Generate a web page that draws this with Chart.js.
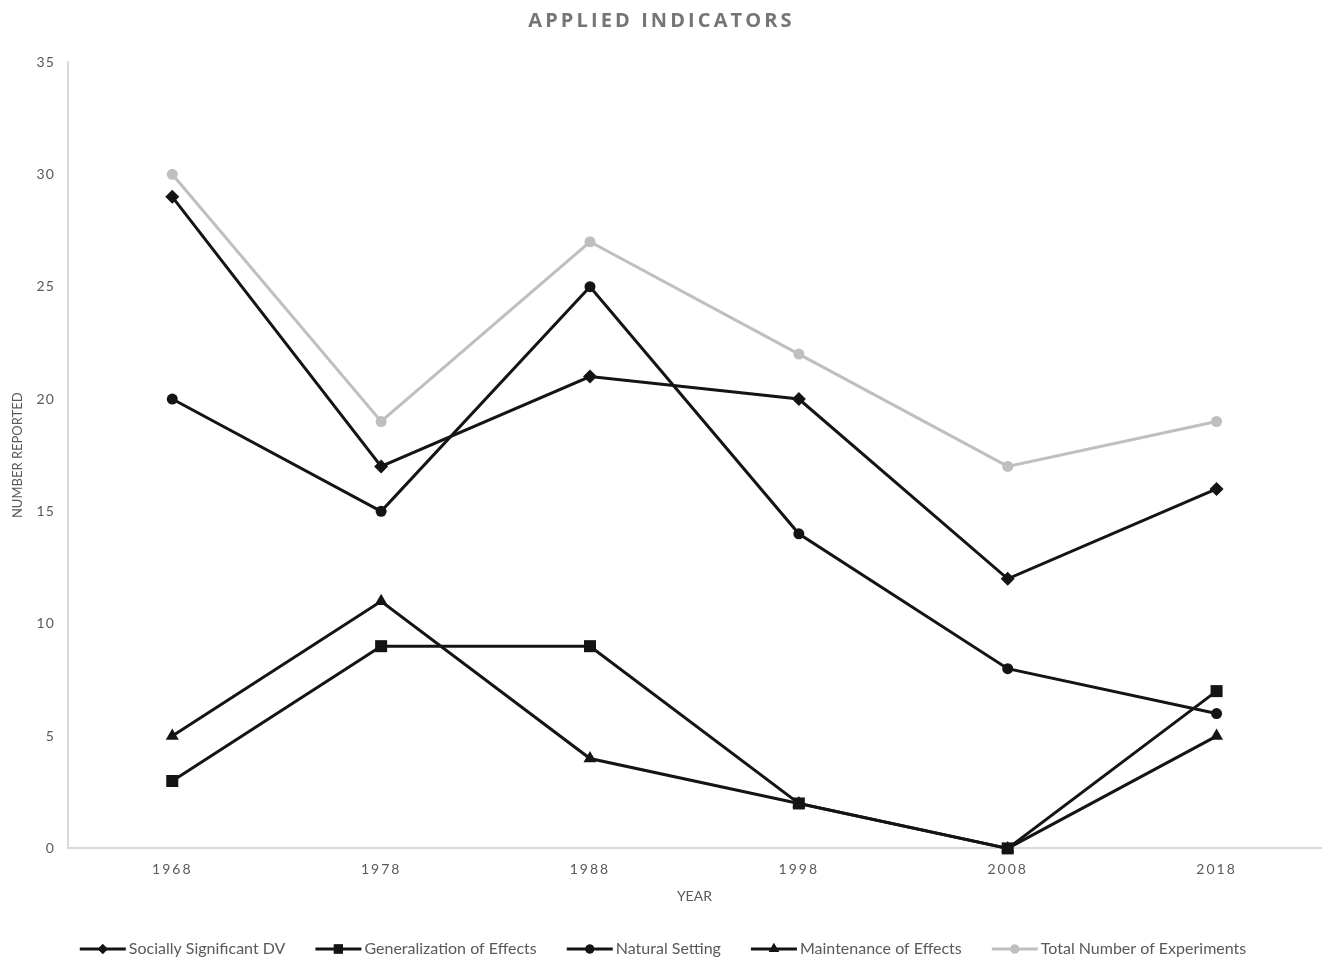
<!DOCTYPE html>
<html>
<head>
<meta charset="utf-8">
<script src="https://cdn.jsdelivr.net/npm/chart.js@4/dist/chart.umd.min.js"></script>
<style>
  html, body { margin: 0; padding: 0; background: #fff; }
  #wrap { position: relative; width: 1323px; height: 958px; }
  #title {
    position: absolute; top: 6px; left: 0; width: 1323px; text-align: center;
    font: bold 20px "Open Sans", sans-serif; letter-spacing: 3.1px; color: #757575;
  }
</style>
</head>
<body>
<div id="wrap">
  <div id="title">APPLIED INDICATORS</div>
  <canvas id="chart" width="1323" height="958"></canvas>
</div>
<script>
const years = ["1968", "1978", "1988", "1998", "2008", "2018"];
const sociallySignificant = [29, 17, 21, 20, 12, 16];
const generalization = [3, 9, 9, 2, 0, 7];
const naturalSetting = [20, 15, 25, 14, 8, 6];
const maintenance = [5, 11, 4, 2, 0, 5];
const totalExperiments = [30, 19, 27, 22, 17, 19];

const FONT = "Lato, 'Liberation Sans', sans-serif";
const TEXT = "#595959";

const series = [
    { label: "Socially Significant DV", data: sociallySignificant, color: "#141414", style: "rectRot", r: 7, lr: 5 },
    { label: "Generalization of Effects", data: generalization, color: "#141414", style: "rect", r: 8.5, lr: 6.5 },
    { label: "Natural Setting", data: naturalSetting, color: "#141414", style: "circle", r: 5.5, lr: 4.5 },
    { label: "Maintenance of Effects", data: maintenance, color: "#141414", style: "triangle", r: 7.5, lr: 6 },
    { label: "Total Number of Experiments", data: totalExperiments, color: "#bfbfbf", style: "circle", r: 5.5, lr: 4.5 },
];

// letter-spaced tick labels, like the original
const spacedTicks = {
    id: "spacedTicks",
    beforeDraw(chart) {
        [["x", "2px"], ["y", "1px"]].forEach(([id, sp]) => {
            const sc = chart.scales[id];
            if (sc && !sc._spaced) {
                const orig = sc.drawLabels;
                sc.drawLabels = function (area) {
                    this.ctx.save();
                    this.ctx.letterSpacing = sp;
                    orig.call(this, area);
                    this.ctx.restore();
                };
                sc._spaced = true;
            }
        });
    }
};

// bottom legend: a short line with the marker, then the label
const lineLegend = {
    id: "lineLegend",
    afterDraw(chart) {
        const c = chart.ctx;
        const lineW = 46, gapText = 3, gapItem = 30, y = 949;
        c.save();
        c.font = "16px " + FONT;
        const widths = series.map(s => c.measureText(s.label).width);
        const total = widths.reduce((a, w) => a + lineW + gapText + w, 0) + gapItem * (series.length - 1);
        let x = 663 - total / 2;
        series.forEach((s, i) => {
            c.strokeStyle = s.color;
            c.fillStyle = s.color;
            c.lineWidth = 3;
            c.beginPath(); c.moveTo(x, y); c.lineTo(x + lineW, y); c.stroke();
            Chart.helpers.drawPoint(c, { pointStyle: s.style, radius: s.lr, borderWidth: 0 }, x + lineW / 2, y);
            c.fill();
            c.fillStyle = TEXT;
            c.textBaseline = "middle";
            c.fillText(s.label, x + lineW + gapText, y);
            x += lineW + gapText + widths[i] + gapItem;
        });
        c.restore();
    }
};

const ctx = document.getElementById("chart").getContext("2d");
new Chart(ctx, {
    type: "line",
    data: {
        labels: years,
        datasets: series.map(s => ({
            label: s.label,
            data: s.data,
            borderColor: s.color,
            backgroundColor: s.color,
            borderWidth: 3,
            pointStyle: s.style,
            pointRadius: s.r,
            pointHoverRadius: s.r,
            pointBorderWidth: 0,
            tension: 0,
            fill: false,
            clip: false,
        })),
    },
    options: {
        responsive: false,
        animation: false,
        layout: { autoPadding: false, padding: { top: 62, right: 2, left: 0, bottom: 53 } },
        plugins: {
            title: { display: false },
            tooltip: { enabled: false },
            legend: { display: false },
        },
        scales: {
            x: {
                offset: true,
                grid: { display: false, drawTicks: false },
                border: { display: true, color: "#d9d9d9", width: 2 },
                ticks: { color: TEXT, font: { family: FONT, size: 14 }, padding: 13 },
                title: { display: true, text: "YEAR", color: TEXT, font: { family: FONT, size: 14 }, padding: { top: -3, bottom: 0 } },
            },
            y: {
                min: 0,
                max: 35,
                ticks: { stepSize: 5, color: TEXT, font: { family: FONT, size: 14 }, padding: 13 },
                grid: { display: false, drawTicks: false },
                border: { display: true, color: "#d9d9d9", width: 2 },
                title: { display: true, text: "NUMBER REPORTED", color: TEXT, font: { family: FONT, size: 13 }, padding: { top: 10, bottom: 0 } },
            },
        },
    },
    plugins: [spacedTicks, lineLegend],
});
</script>
</body>
</html>
